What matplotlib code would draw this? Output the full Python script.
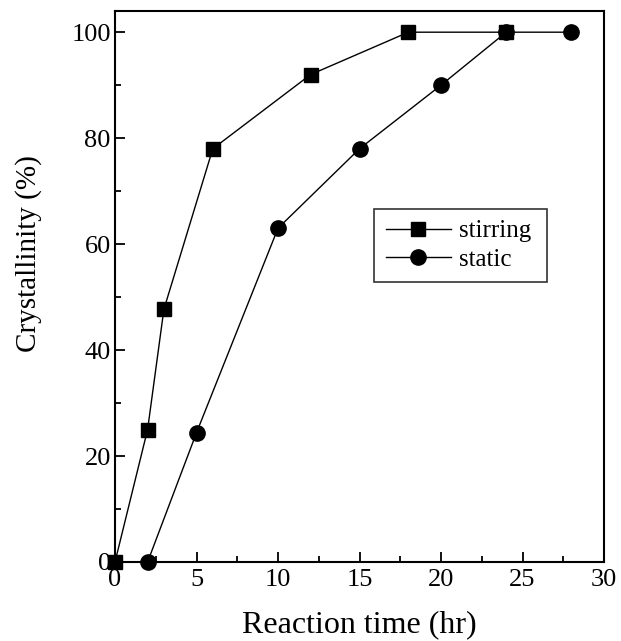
import numpy as np
import matplotlib
matplotlib.use('Agg')
import matplotlib.pyplot as plt
from matplotlib.ticker import MultipleLocator

plt.rcParams['font.family'] = ['Liberation Serif', 'DejaVu Serif']

t_stir = [0, 2, 3, 6, 12, 18, 24]
c_stir = [0, 25, 47.7, 78, 92, 100, 100]
t_static = [2, 5, 10, 15, 20, 24, 28]
c_static = [0, 24.4, 63, 78, 90, 100, 100]

fig = plt.figure(figsize=(6.21, 6.41), dpi=100)
ax = fig.add_axes([115/621, 1-562/641, 489/621, 551/641])

ax.plot(t_stir, c_stir, color='black', lw=1, marker='s', ms=9.5, clip_on=False, zorder=3, label='stirring')
ax.plot(t_static, c_static, color='black', lw=1, marker='o', ms=11, clip_on=False, zorder=3, label='static')

ax.set_xlim(0, 30)
ax.set_ylim(0, 104)
ax.xaxis.set_major_locator(MultipleLocator(5))
ax.xaxis.set_minor_locator(MultipleLocator(2.5))
ax.yaxis.set_major_locator(MultipleLocator(20))
ax.yaxis.set_minor_locator(MultipleLocator(10))
ax.tick_params(which='both', direction='in', labelsize=19, top=False, right=False)
ax.tick_params(which='major', length=7, width=1.3)
ax.tick_params(which='minor', length=4, width=1.3)
ax.tick_params(axis='x', pad=5)
ax.tick_params(axis='y', pad=3)
for s in ax.spines.values():
    s.set_linewidth(1.5)

ax.set_xlabel('Reaction time (hr)', fontsize=23, labelpad=14)
ax.set_ylabel('Crystallinity (%)', fontsize=21)
ax.yaxis.set_label_coords(-0.15, 0.56)

leg = ax.legend(loc='lower left', bbox_to_anchor=(0.505, 0.485, 0.405, 0.152), mode='expand',
                fontsize=18, frameon=True, fancybox=False, edgecolor='black',
                handlelength=2.6, handletextpad=0.35, borderpad=0.45, labelspacing=0.25)
leg.get_frame().set_linewidth(1.2)

plt.savefig('out.png', dpi=100)
